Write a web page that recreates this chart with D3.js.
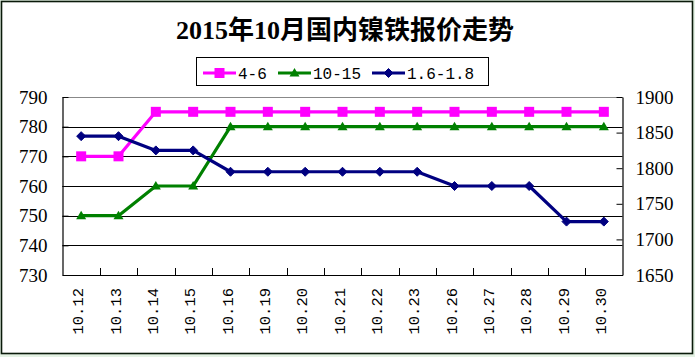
<!DOCTYPE html>
<html><head><meta charset="utf-8">
<script src="https://cdn.jsdelivr.net/npm/d3@7"></script>
<style>
html,body{margin:0;padding:0;background:#e4f2e4;}
svg{display:block;}
</style></head>
<body>
<svg id="c" width="695" height="357"></svg>
<script>
const title = "2015年10月国内镍铁报价走势";
const categories = ["10.12","10.13","10.14","10.15","10.16","10.19","10.20","10.21","10.22","10.23","10.26","10.27","10.28","10.29","10.30"];
const seriesNames = ["4-6","10-15","1.6-1.8"];
const s46 = [770,770,785,785,785,785,785,785,785,785,785,785,785,785,785];
const s1015 = [750,750,760,760,780,780,780,780,780,780,780,780,780,780,780];
const s1618 = [1845,1845,1825,1825,1795,1795,1795,1795,1795,1795,1775,1775,1775,1725,1725];
const leftTicks = [730,740,750,760,770,780,790];
const rightTicks = [1650,1700,1750,1800,1850,1900];

const svg = d3.select("#c");
svg.append("rect").attr("x",1.5).attr("y",1.5).attr("width",691).attr("height",352)
  .attr("fill","#fff").attr("stroke","#0a1a0a").attr("stroke-width",1.6);

const L = 62.5, R = 622.5, T = 97, B = 275;
const x = d3.scaleBand().domain(categories).range([L,R]).padding(0);
const yL = d3.scaleLinear().domain([730,790]).range([B,T]);
const yR = d3.scaleLinear().domain([1650,1900]).range([B,T]);
const cx = d => x(d) + x.bandwidth()/2;

// title
svg.append("text").attr("x",345).attr("y",39).attr("text-anchor","middle")
  .attr("font-family","'Liberation Serif','Noto Sans CJK SC',serif").attr("font-weight","bold")
  .attr("font-size",26).attr("fill","#000").text(title);

// gridlines
const g = svg.append("g");
g.selectAll("line.grid").data(leftTicks.filter(v=>v>730 && v<790)).join("line")
  .attr("x1",L).attr("x2",R).attr("y1",d=>Math.round(yL(d))+0.5).attr("y2",d=>Math.round(yL(d))+0.5)
  .attr("stroke","#000").attr("stroke-width",1);
// top border gray
g.append("line").attr("x1",L).attr("x2",R).attr("y1",T+0.5).attr("y2",T+0.5).attr("stroke","#888");

// axes
const axL = d3.axisLeft(yL).tickValues(leftTicks).tickSizeInner(-6).tickSizeOuter(0).tickFormat(d3.format("d"));
const gL = svg.append("g").attr("transform",`translate(${L},0)`).call(axL);
const axR = d3.axisRight(yR).tickValues(rightTicks).tickSizeInner(-6).tickSizeOuter(0).tickFormat(d3.format("d"));
const gR = svg.append("g").attr("transform",`translate(${R},0)`).call(axR);
const axB = d3.axisBottom(x).tickSizeInner(0).tickSizeOuter(0);
const gB = svg.append("g").attr("transform",`translate(0,${B})`).call(axB);
[gL,gR,gB].forEach(a=>{a.selectAll("path.domain").attr("stroke","#000").attr("stroke-width",1.2);a.selectAll("line").attr("stroke","#000");});
gL.selectAll("text").attr("x",-15).attr("font-family","'Liberation Serif',serif").attr("font-size",19).attr("fill","#000");
gR.selectAll("text").attr("x",13).attr("font-family","'Liberation Serif',serif").attr("font-size",19).attr("fill","#000");
// category boundary ticks (inward)
svg.append("g").selectAll("line").data(categories.slice(1)).join("line")
  .attr("x1",d=>Math.round(x(d))+0.5).attr("x2",d=>Math.round(x(d))+0.5).attr("y1",B).attr("y2",B-7)
  .attr("stroke","#000");
gB.selectAll("text")
  .attr("font-family","'Liberation Mono',monospace").attr("font-size",15.5).attr("fill","#000")
  .attr("text-anchor","end").attr("dy",null).attr("y",null)
  .attr("transform","translate(2,13) rotate(-90)");

// series
const series = [
  {name:seriesNames[0], vals:s46, y:yL, color:"#ff00ff", shape:"square"},
  {name:seriesNames[1], vals:s1015, y:yL, color:"#008000", shape:"triangle"},
  {name:seriesNames[2], vals:s1618, y:yR, color:"#000080", shape:"diamond"}
];
function marker(sel, shape, color){
  if(shape==="square") sel.append("rect").attr("x",-5).attr("y",-5).attr("width",10).attr("height",10).attr("fill",color);
  else if(shape==="triangle") sel.append("path").attr("d","M0,-5L5,3.5L-5,3.5Z").attr("fill",color);
  else sel.append("path").attr("d","M0,-4.5L4.5,0L0,4.5L-4.5,0Z").attr("fill",color).attr("stroke",color).attr("stroke-width",1);
}
series.forEach(s=>{
  const line = d3.line().x((d,i)=>cx(categories[i])).y(d=>s.y(d));
  svg.append("path").datum(s.vals).attr("d",line).attr("fill","none")
    .attr("stroke",s.color).attr("stroke-width",3.2).attr("stroke-linejoin","round");
  svg.append("g").selectAll("g").data(s.vals).join("g")
    .attr("transform",(d,i)=>`translate(${cx(categories[i])},${s.y(d)})`)
    .each(function(){ marker(d3.select(this), s.shape, s.color); });
});

// legend
const lg = svg.append("g");
lg.append("rect").attr("x",196.5).attr("y",57.5).attr("width",292).attr("height",28)
  .attr("fill","#fff").attr("stroke","#000").attr("stroke-width",1);
const legX = [203,278,372];
series.forEach((s,i)=>{
  const gi = lg.append("g");
  gi.append("line").attr("x1",legX[i]).attr("x2",legX[i]+33).attr("y1",73).attr("y2",73)
    .attr("stroke",s.color).attr("stroke-width",3.2);
  const m = gi.append("g").attr("transform",`translate(${legX[i]+16.5},73)`);
  marker(m, s.shape, s.color);
  gi.append("text").attr("x",legX[i]+35).attr("y",79).attr("font-family","'Liberation Mono',monospace")
    .attr("font-size",16).attr("fill","#000").text(s.name);
});
</script>
</body></html>
